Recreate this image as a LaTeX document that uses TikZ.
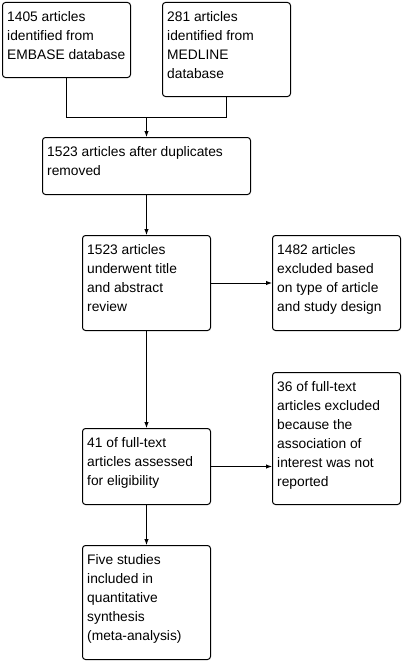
\documentclass[tikz,border=0pt]{standalone}
\usepackage{fontspec}
\setmainfont{Liberation Sans}
\usetikzlibrary{arrows.meta}
\tikzset{
  box/.style={draw=black, line width=1pt, rounded corners=3pt, anchor=north west, inner sep=0pt},
  txt/.style={anchor=north west, inner sep=0pt, align=left, font=\fontsize{13.8}{19}\selectfont},
  conn/.style={line width=1pt, draw=black},
  arr/.style={conn, -{Latex[length=6pt,width=4.5pt]}}
}
\begin{document}
\begin{tikzpicture}[x=1pt,y=-1pt]
\useasboundingbox (0,0) rectangle (402,661);
% boxes
\node[box, minimum width=128pt, minimum height=75pt] (a) at (2,2) {};
\node[box, minimum width=128pt, minimum height=94pt] (b) at (162,2) {};
\node[box, minimum width=208pt, minimum height=57pt] (c) at (42,137) {};
\node[box, minimum width=128pt, minimum height=95pt] (d) at (82,235) {};
\node[box, minimum width=128pt, minimum height=95pt] (e) at (272,235) {};
\node[box, minimum width=128pt, minimum height=132pt] (f) at (272,372) {};
\node[box, minimum width=128pt, minimum height=76pt] (g) at (82,428) {};
\node[box, minimum width=128pt, minimum height=114pt] (h) at (82,545) {};
% texts
\node[txt] (ta) at ([shift={(5pt,-5.7pt)}]a.north west) {\strut 1405 articles\\identified from\\EMBASE database};
\node[txt] (tb) at ([shift={(5pt,-5.7pt)}]b.north west) {\strut 281 articles\\identified from\\MEDLINE\\database};
\node[txt] (tc) at ([shift={(5pt,-5.7pt)}]c.north west) {\strut 1523 articles after duplicates\\removed};
\node[txt] (td) at ([shift={(5pt,-5.7pt)}]d.north west) {\strut 1523 articles\\underwent title\\and abstract\\review};
\node[txt] (te) at ([shift={(5pt,-5.7pt)}]e.north west) {\strut 1482 articles\\excluded based\\on type of article\\and study design};
\node[txt] (tf) at ([shift={(5pt,-5.7pt)}]f.north west) {\strut 36 of full-text\\articles excluded\\because the\\association of\\interest was not\\reported};
\node[txt] (tg) at ([shift={(5pt,-5.7pt)}]g.north west) {\strut 41 of full-text\\articles assessed\\for eligibility};
\node[txt] (th) at ([shift={(5pt,-5.7pt)}]h.north west) {\strut Five studies\\included in\\quantitative\\synthesis\\(meta-analysis)};
% connectors
\coordinate (m) at (c.north |- 0,117);
\draw[conn] (a.south) |- (m);
\draw[conn] (b.south) |- (m);
\draw[arr] (m) -- (c.north);
\draw[arr] (c.south) -- (d.north);
\draw[arr] (d.east) -- (e.west);
\draw[arr] (d.south) -- (g.north);
\draw[arr] (g.east) -- (g.east -| f.west);
\draw[arr] (g.south) -- (h.north);
\end{tikzpicture}
\end{document}
